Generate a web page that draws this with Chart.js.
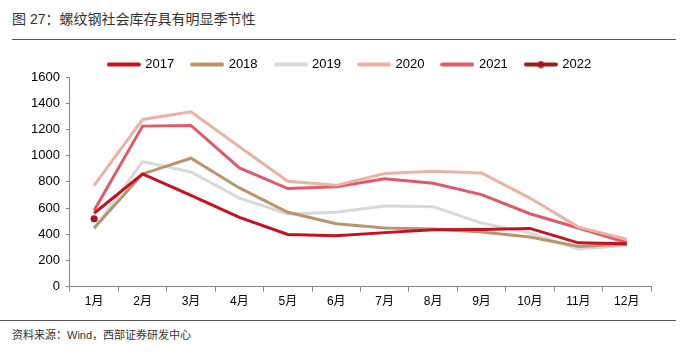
<!DOCTYPE html>
<html><head><meta charset="utf-8">
<script src="https://cdn.jsdelivr.net/npm/chart.js@4/dist/chart.umd.min.js"></script>
<style>
html,body{margin:0;padding:0;background:#fff;}
body{width:688px;height:359px;position:relative;overflow:hidden;font-family:"Liberation Sans","Noto Sans CJK SC",sans-serif;}
#title{position:absolute;left:12px;top:8px;font-size:14px;color:#333;}
#line1{position:absolute;left:12px;top:39px;width:664px;height:0;border-top:1.5px solid #555;}
#line2{position:absolute;left:0px;top:320px;width:676px;height:0;border-top:1.5px solid #555;}
#src{position:absolute;left:12px;top:326px;font-size:11px;color:#333;}
#wrap{position:absolute;left:0;top:38px;width:688px;height:274px;}
</style></head>
<body>
<div id="title">图 27：螺纹钢社会库存具有明显季节性</div>
<div id="line1"></div>
<div id="wrap"><canvas id="c"></canvas></div>
<div id="line2"></div>
<div id="src">资料来源：Wind，西部证券研发中心</div>
<script>
const months = ["1月","2月","3月","4月","5月","6月","7月","8月","9月","10月","11月","12月"];
const s2017 = [560, 860, 697, 528, 398, 388, 412, 434, 436, 444, 334, 328];
const s2018 = [447, 860, 980, 753, 567, 480, 447, 439, 416, 378, 306, 324];
const s2019 = [442, 954, 875, 676, 554, 567, 615, 610, 485, 408, 288, 314];
const s2020 = [773, 1276, 1334, 1068, 804, 773, 863, 880, 867, 676, 454, 362];
const s2021 = [580, 1225, 1230, 906, 748, 763, 824, 789, 702, 556, 447, 337];
const s2022 = [518];
const seriesNames = ["2017","2018","2019","2020","2021","2022"];
const colors = ["#C8101E","#B8956F","#D9D9D9","#EBB3A7","#E05A6A","#9B1B20"];
const allSeries = [s2017,s2018,s2019,s2020,s2021,s2022];

function legendImg(color, marker){
  const cv = document.createElement('canvas');
  cv.width = 34; cv.height = 8;
  const g = cv.getContext('2d');
  g.strokeStyle = color; g.lineWidth = 4; g.lineCap='round';
  g.beginPath(); g.moveTo(2,4); g.lineTo(32,4); g.stroke();
  if (marker){ g.fillStyle = color; g.beginPath(); g.arc(17,4,3.5,0,Math.PI*2); g.fill(); }
  return cv;
}

const datasets = allSeries.map((d,i)=>({
  label: seriesNames[i],
  data: d,
  borderColor: colors[i],
  backgroundColor: colors[i],
  borderWidth: 3,
  pointRadius: i===5 ? 3.6 : 0,
  pointBorderWidth: 0,
  pointHoverRadius: 0,
  tension: 0,
  fill: false
}));

const shiftLegend = {
  id: 'shiftLegend',
  afterLayout(chart){
    if (chart.legend){ chart.legend.left += 12; chart.legend.right += 12; }
  }
};

new Chart(document.getElementById('c'), {
  type: 'line',
  data: { labels: months, datasets },
  plugins: [shiftLegend],
  options: {
    responsive: true,
    maintainAspectRatio: false,
    animation: false,
    layout: { padding: { left: 25, right: 37, top: 2, bottom: 0 } },
    plugins: {
      tooltip: { enabled: false },
      legend: {
        position: 'top',
        maxHeight: 37,
        labels: {
          usePointStyle: true,
          pointStyleWidth: 30,
          padding: 18,
          color: '#000',
          font: { family: '"Liberation Sans","Noto Sans CJK SC",sans-serif', size: 13 },
          generateLabels: (chart) => chart.data.datasets.map((ds,i)=>({
            text: ds.label,
            pointStyle: legendImg(ds.borderColor, i===5),
            fillStyle: ds.borderColor,
            strokeStyle: ds.borderColor,
            lineWidth: 0,
            hidden: false,
            datasetIndex: i,
            fontColor: '#000'
          }))
        }
      }
    },
    scales: {
      x: {
        offset: true,
        grid: { display: true, drawOnChartArea: false, drawTicks: true, tickLength: 5, color: '#888', offset: true },
        border: { color: '#888', width: 1 },
        ticks: { color: '#000', padding: 3, font: { family: '"Liberation Sans","Noto Sans CJK SC",sans-serif', size: 12 } }
      },
      y: {
        min: 0, max: 1600,
        ticks: { stepSize: 200, color: '#000', padding: 6, callback: v => String(v), font: { family: '"Liberation Sans",sans-serif', size: 13 } },
        grid: { display: true, drawOnChartArea: false, drawTicks: true, tickLength: 4, color: '#888' },
        border: { color: '#888', width: 1 }
      }
    }
  }
});
</script>
</body></html>
